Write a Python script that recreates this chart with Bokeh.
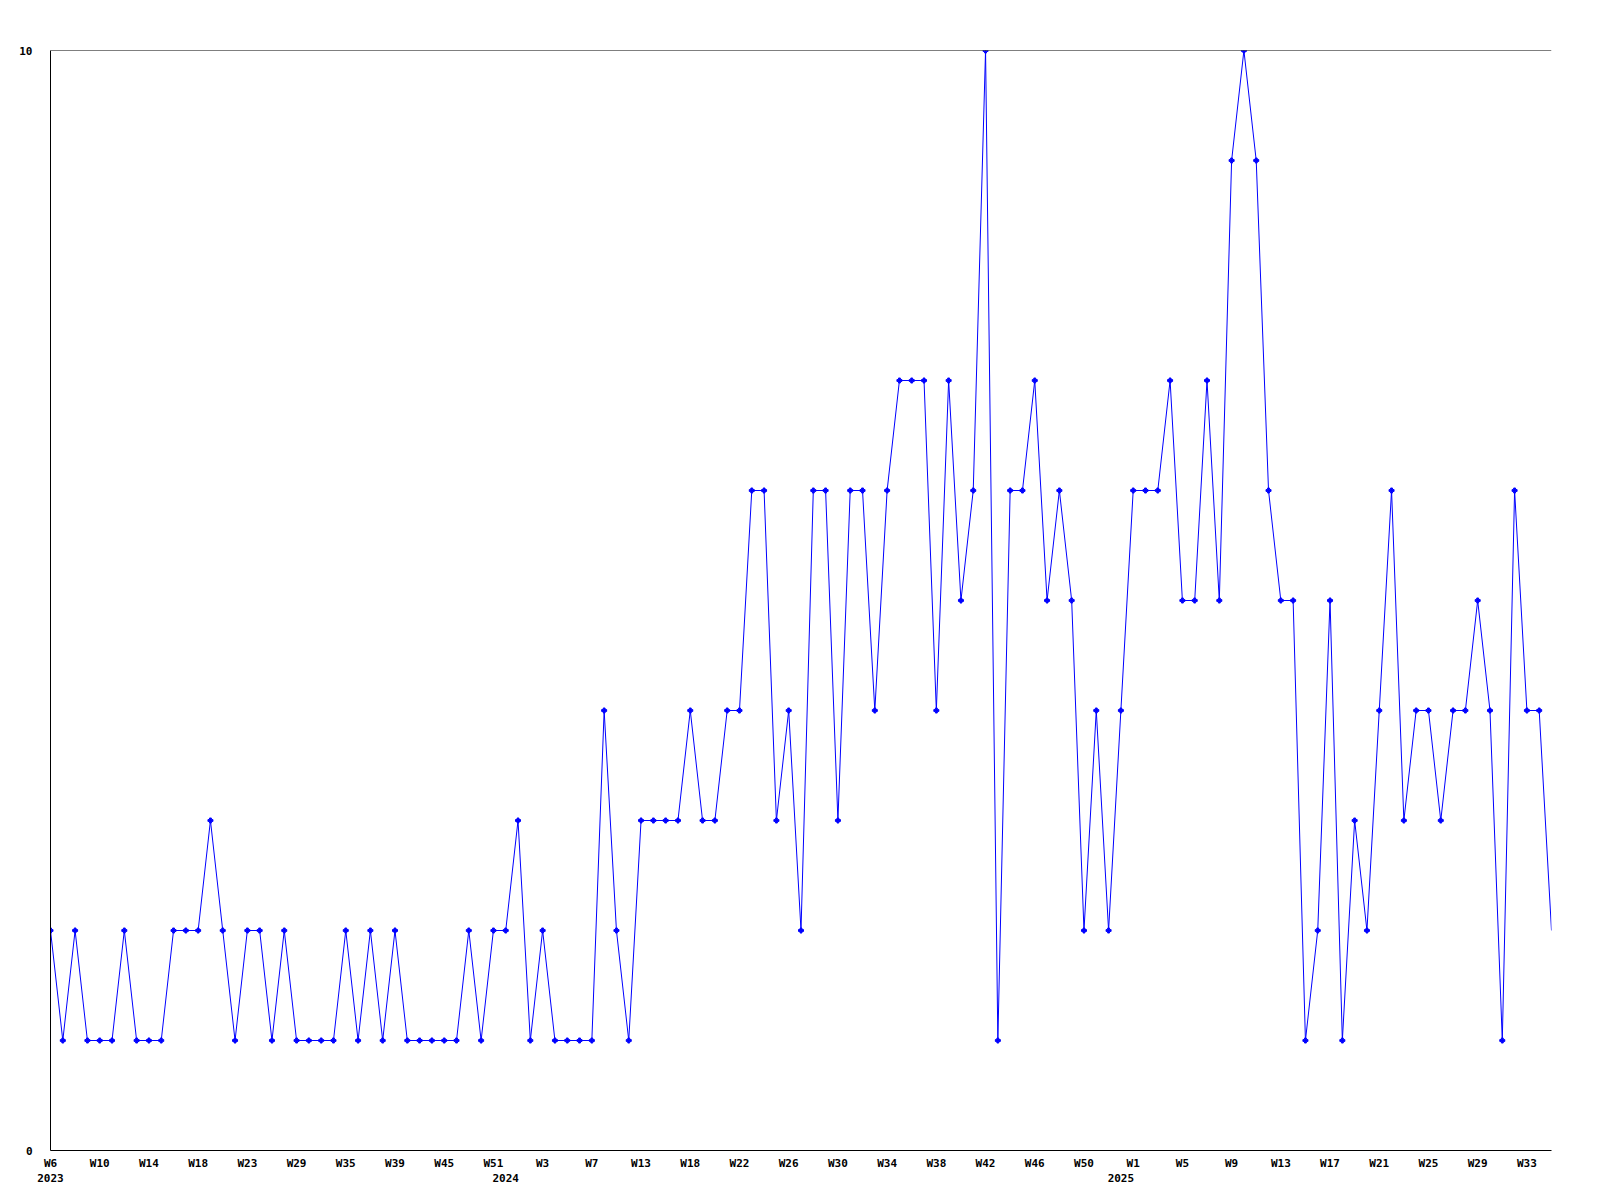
from bokeh.plotting import figure
from bokeh.models import Range1d, FixedTicker, LinearAxis, Span
from bokeh.embed import file_html
from bokeh.resources import INLINE

# Series values (one per sample, left to right)
values = [
    2, 1, 2, 1, 1, 1, 2, 1, 1, 1, 2, 2, 2, 3, 2, 1, 2, 2, 1, 2, 1, 1, 1,
    1, 2, 1, 2, 1, 2, 1, 1, 1, 1, 1, 2, 1, 2, 2, 3, 1, 2, 1, 1, 1, 1, 4, 2,
    1, 3, 3, 3, 3, 4, 3, 3, 4, 4, 6, 6, 3, 4, 2, 6, 6, 3, 6, 6, 4, 6,
    7, 7, 7, 4, 7, 5, 6, 10, 1, 6, 6, 7, 5, 6, 5, 2, 4, 2, 4, 6, 6, 6, 7, 5,
    5, 7, 5, 9, 10, 9, 6, 5, 5, 1, 2, 5, 1, 3, 2, 4, 6, 3, 4, 4, 3, 4, 4, 5, 4, 1, 6, 4, 4, 2,
]

# Week tick labels (one every 4 samples)
week_labels = [
    "W6", "W10", "W14", "W18", "W23", "W29", "W35", "W39", "W45", "W51",
    "W3", "W7", "W13", "W18", "W22", "W26", "W30", "W34", "W38", "W42",
    "W46", "W50", "W1", "W5", "W9", "W13", "W17", "W21", "W25", "W29", "W33",
]
week_tick_index = list(range(0, 4 * len(week_labels), 4))

# Year labels and the sample index where each year starts
year_labels = ["2023", "2024", "2025"]
year_tick_index = [0, 37, 87]

y_ticks = [0, 10]

x = list(range(len(values)))

FONT = "DejaVu Sans Mono"
BLUE = "#0000FF"

p = figure(
    frame_width=1501, frame_height=1100,
    min_border_left=50, min_border_top=50, min_border_right=33, min_border_bottom=30,
    x_range=Range1d(0, len(values) - 1), y_range=Range1d(0, 10),
    output_backend="svg", toolbar_location=None,
    background_fill_color="white", border_fill_color="white",
)
p.outline_line_color = None
p.xgrid.visible = False
p.ygrid.visible = False

# bottom (week) axis
xa = p.xaxis[0]
xa.ticker = FixedTicker(ticks=week_tick_index)
xa.major_label_overrides = {t: l for t, l in zip(week_tick_index, week_labels)}
xa.major_tick_line_color = None
xa.minor_tick_line_color = None
xa.axis_line_color = "black"
xa.axis_line_width = 1
xa.major_label_standoff = 0
xa.major_label_text_font = FONT
xa.major_label_text_font_style = "bold"
xa.major_label_text_font_size = "11px"
xa.major_label_text_color = "black"

# second bottom axis for the years
ya_year = LinearAxis(
    ticker=FixedTicker(ticks=year_tick_index),
    major_label_overrides={t: l for t, l in zip(year_tick_index, year_labels)},
    axis_line_color=None, major_tick_line_color=None, minor_tick_line_color=None,
    major_label_standoff=-5,
    major_label_text_font=FONT, major_label_text_font_style="bold",
    major_label_text_font_size="11px", major_label_text_color="black",
)
p.add_layout(ya_year, "below")

# left axis
ya = p.yaxis[0]
ya.ticker = FixedTicker(ticks=y_ticks)
ya.major_tick_line_color = None
ya.minor_tick_line_color = None
ya.axis_line_color = "black"
ya.axis_line_width = 1
ya.major_label_standoff = 12
ya.major_label_text_font = FONT
ya.major_label_text_font_style = "bold"
ya.major_label_text_font_size = "11px"
ya.major_label_text_color = "black"

# top border line
p.add_layout(Span(location=10, dimension="width", line_color="black", line_width=1))

p.line(x, values, line_color=BLUE, line_width=1)
p.scatter(x[:-1], values[:-1], marker="plus", size=5, color=BLUE)

open("out.html", "w").write(file_html(p, INLINE))
